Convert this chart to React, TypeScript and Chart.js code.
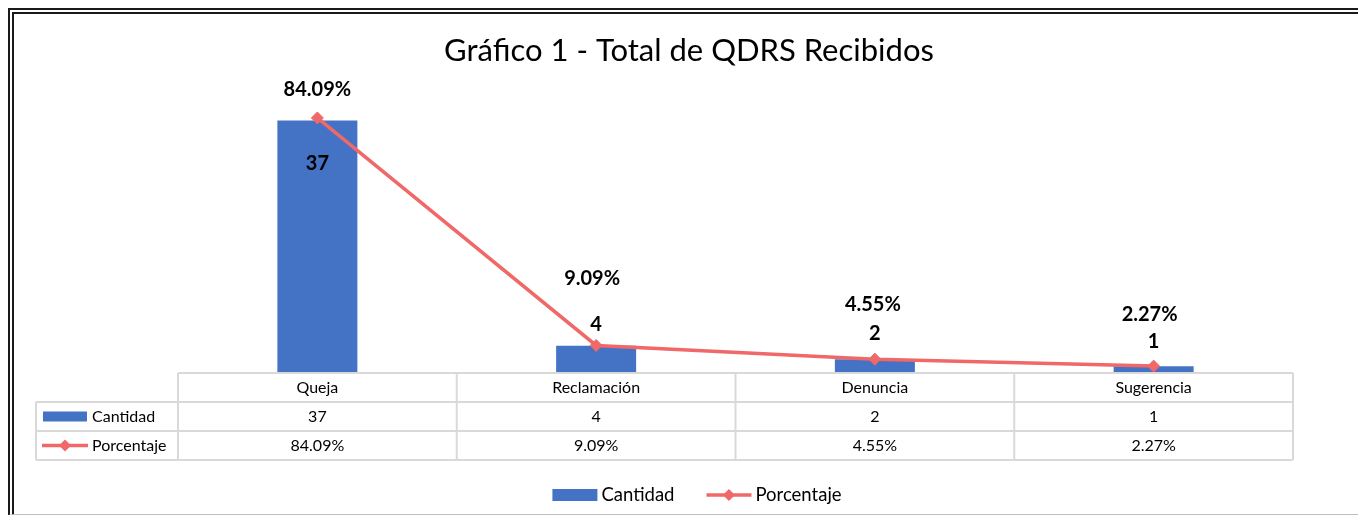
import { useEffect, useRef } from "react";
import { Chart, registerables } from "chart.js";

Chart.register(...registerables);

const categories = ["Queja", "Reclamación", "Denuncia", "Sugerencia"];
const cantidad = [37, 4, 2, 1];
const porcentaje = [84.09, 9.09, 4.55, 2.27];
const seriesNames = ["Cantidad", "Porcentaje"];
const titleText = "Gráfico 1 - Total de QDRS Recibidos";

// label placement offsets (styling, px)
const countLabelDy = [43, -21, -26, -25];
const pctLabelDy = [-28, -67, -55, -52];
const pctLabelDx = [0, -4, -2, -4];

const FONT = "Lato, 'Open Sans', sans-serif";
const BLUE = "#4472C4";
const RED = "#F06868";
const GRID = "#d9d9d9";

const fmtPct = (v: number) => v.toFixed(2) + "%";

function drawLineKey(ctx: CanvasRenderingContext2D, x0: number, x1: number, y: number) {
  ctx.save();
  ctx.strokeStyle = RED;
  ctx.lineWidth = 3.5;
  ctx.beginPath();
  ctx.moveTo(x0, y);
  ctx.lineTo(x1, y);
  ctx.stroke();
  const cx = (x0 + x1) / 2;
  const r = 6;
  ctx.fillStyle = RED;
  ctx.beginPath();
  ctx.moveTo(cx, y - r);
  ctx.lineTo(cx + r, y);
  ctx.lineTo(cx, y + r);
  ctx.lineTo(cx - r, y);
  ctx.closePath();
  ctx.fill();
  ctx.restore();
}

const tablePlugin = {
  id: "tableAndLabels",
  afterDatasetsDraw(chart: any) {
    const { ctx, chartArea } = chart;
    const xs = chart.scales.x;
    const n = categories.length;
    const colW = (chartArea.right - chartArea.left) / n;
    const top = chartArea.bottom;
    const rowH = 29;
    const labelLeft = 22;
    ctx.save();

    // title (centred on the whole chart frame)
    ctx.font = `31px ${FONT}`;
    ctx.fillStyle = "#000";
    ctx.textAlign = "center";
    ctx.textBaseline = "alphabetic";
    ctx.fillText(titleText, chart.width / 2, 47);

    // data labels
    ctx.font = `bold 20px ${FONT}`;
    ctx.fillStyle = "#000";
    ctx.textAlign = "center";
    ctx.textBaseline = "middle";
    const barMeta = chart.getDatasetMeta(0);
    const lineMeta = chart.getDatasetMeta(1);
    barMeta.data.forEach((el: any, i: number) => {
      ctx.fillText(String(cantidad[i]), el.x, el.y + countLabelDy[i]);
    });
    lineMeta.data.forEach((el: any, i: number) => {
      ctx.fillText(fmtPct(porcentaje[i]), el.x + pctLabelDx[i], el.y + pctLabelDy[i]);
    });

    // table grid
    ctx.strokeStyle = GRID;
    ctx.lineWidth = 2;
    ctx.beginPath();
    ctx.moveTo(chartArea.left, top);
    ctx.lineTo(chartArea.right, top);
    for (let r = 1; r <= 3; r++) {
      ctx.moveTo(labelLeft, top + r * rowH);
      ctx.lineTo(chartArea.right, top + r * rowH);
    }
    ctx.moveTo(labelLeft, top + rowH);
    ctx.lineTo(labelLeft, top + 3 * rowH);
    for (let i = 0; i <= n; i++) {
      const x = chartArea.left + i * colW;
      ctx.moveTo(x, top);
      ctx.lineTo(x, top + 3 * rowH);
    }
    ctx.stroke();

    // table text
    ctx.font = `16px ${FONT}`;
    ctx.fillStyle = "#000";
    ctx.textAlign = "center";
    ctx.textBaseline = "middle";
    categories.forEach((c, i) => {
      const x = xs.getPixelForValue(i);
      ctx.fillText(c, x, top + rowH / 2);
      ctx.fillText(String(cantidad[i]), x, top + rowH * 1.5);
      ctx.fillText(fmtPct(porcentaje[i]), x, top + rowH * 2.5);
    });

    // row headers
    ctx.textAlign = "left";
    ctx.fillStyle = BLUE;
    ctx.fillRect(29, top + rowH * 1.5 - 5, 44, 10);
    drawLineKey(ctx, 28, 74, top + rowH * 2.5);
    ctx.fillStyle = "#000";
    ctx.fillText(seriesNames[0], 78, top + rowH * 1.5);
    ctx.fillText(seriesNames[1], 78, top + rowH * 2.5);

    // bottom legend
    ctx.font = `18.5px ${FONT}`;
    const w1 = ctx.measureText(seriesNames[0]).width;
    const w2 = ctx.measureText(seriesNames[1]).width;
    const keyW = 45;
    const gap = 4;
    const spacing = 32;
    const total = keyW + gap + w1 + spacing + keyW + gap + w2;
    let x = chart.width / 2 + 8 - total / 2;
    const ly = 481;
    ctx.fillStyle = BLUE;
    ctx.fillRect(x, ly - 6, keyW, 12);
    x += keyW + gap;
    ctx.fillStyle = "#000";
    ctx.fillText(seriesNames[0], x, ly);
    x += w1 + spacing;
    drawLineKey(ctx, x, x + keyW, ly);
    x += keyW + gap;
    ctx.fillStyle = "#000";
    ctx.fillText(seriesNames[1], x, ly);

    ctx.restore();
  },
};

export default function App() {
  const ref = useRef<HTMLCanvasElement | null>(null);
  useEffect(() => {
    if (!ref.current) return;
    const chart = new Chart(ref.current, {
      type: "bar",
      data: {
        labels: categories,
        datasets: [
          {
            type: "bar",
            label: seriesNames[0],
            data: cantidad,
            backgroundColor: BLUE,
            yAxisID: "y",
            order: 2,
            categoryPercentage: 1,
            barPercentage: 0.287,
          },
          {
            type: "line",
            label: seriesNames[1],
            data: porcentaje,
            borderColor: RED,
            backgroundColor: RED,
            borderWidth: 3.5,
            pointStyle: "rectRot",
            pointRadius: 6,
            pointBackgroundColor: RED,
            pointBorderColor: RED,
            pointBorderWidth: 1,
            yAxisID: "y1",
            order: 1,
            tension: 0,
          },
        ] as any,
      },
      options: {
        animation: false,
        responsive: false,
        layout: { padding: { left: 164, right: 71, top: 86, bottom: 141 } },
        plugins: {
          legend: { display: false },
          tooltip: { enabled: false },
          title: { display: false },
        },
        scales: {
          x: { display: false, offset: true },
          y: { display: false, min: 0, max: 40 },
          y1: { display: false, min: 0, max: 90, position: "right" },
        },
      } as any,
      plugins: [tablePlugin],
    });
    return () => chart.destroy();
  }, []);

  return (
    <div
      style={{
        position: "fixed",
        left: 8,
        top: 8,
        width: 1350,
        height: 507,
        overflow: "hidden",
        background: "#fff",
      }}
    >
      <div
        style={{
          position: "absolute",
          left: 0,
          top: 0,
          width: 1362,
          height: 500,
          borderTop: "6px double #1a1a1a",
          borderLeft: "6px double #1a1a1a",
          borderBottom: "1px solid #c0c0c0",
        }}
      >
        <canvas ref={ref} width={1350} height={500} style={{ display: "block", width: 1350, height: 500 }} />
      </div>
    </div>
  );
}
